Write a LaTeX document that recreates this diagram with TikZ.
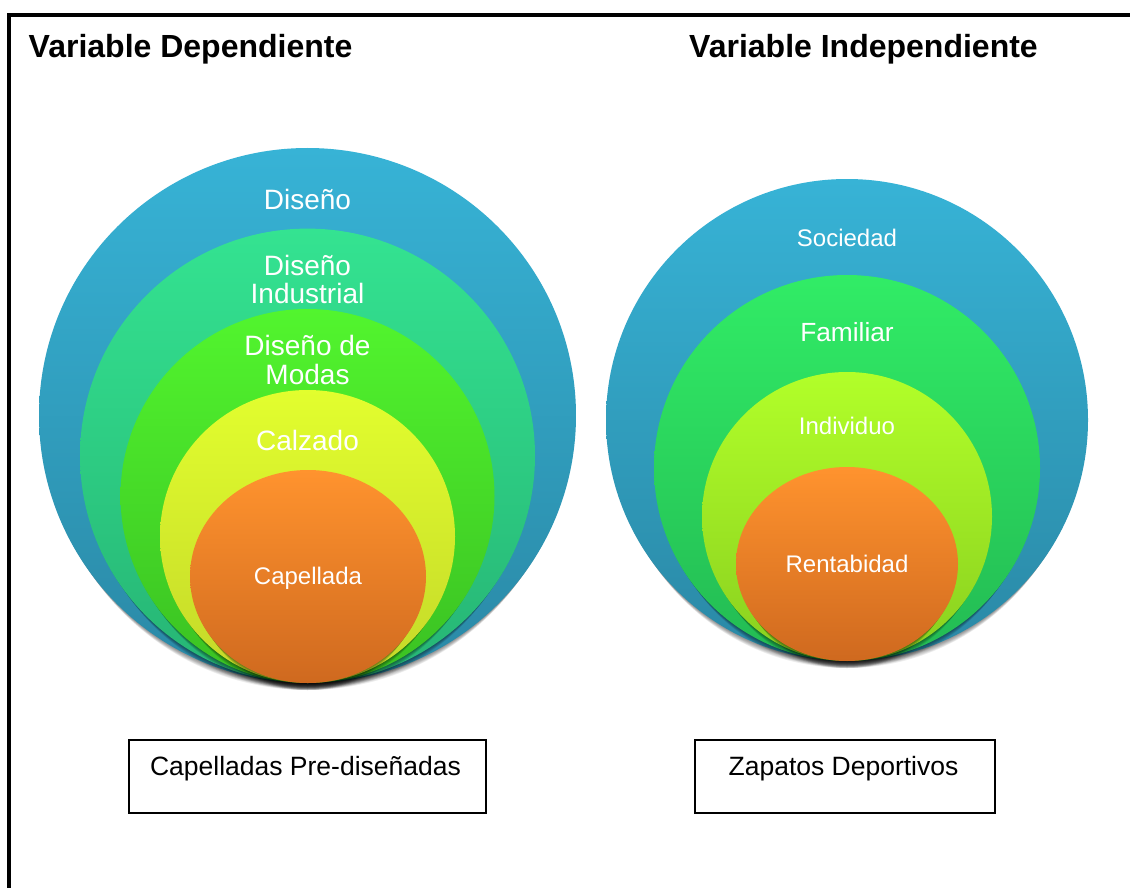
\documentclass[tikz,border=0pt]{standalone}
\usepackage{fontspec}
\setmainfont{Liberation Sans}
\definecolor{blueT}{HTML}{37B3D6}
\definecolor{blueB}{HTML}{2A88A5}
\definecolor{tealT}{HTML}{34E391}
\definecolor{tealB}{HTML}{26B474}
\definecolor{grnT}{HTML}{52F52E}
\definecolor{grnB}{HTML}{3AC022}
\definecolor{yelT}{HTML}{E2FE2E}
\definecolor{yelB}{HTML}{C4D829}
\definecolor{orgT}{HTML}{FF932E}
\definecolor{orgB}{HTML}{CF691F}
\definecolor{famT}{HTML}{31EC66}
\definecolor{famB}{HTML}{23BA53}
\definecolor{indT}{HTML}{B2FF29}
\definecolor{indB}{HTML}{89CF1F}
\newcommand\softdisc[6]{%
  \foreach \k in {1,...,7}{\fill[black,opacity=0.07] (#1,#2+\k*1.0) ellipse ({#3-0.9*\k} and {#4});}
  \shade[top color=#5,bottom color=#6] (#1,#2) ellipse ({#3} and {#4});
}
\tikzset{
  lbl/.style={text=white, anchor=base, inner sep=0pt, align=center},
  big/.style={font=\fontsize{28}{28.5}\selectfont},
  small/.style={font=\fontsize{24}{28}\selectfont},
  ttl/.style={font=\fontsize{32}{36}\selectfont\bfseries, anchor=base west, inner sep=0pt},
  framebox/.style={draw, line width=1.8pt, inner sep=0pt, anchor=north west},
  boxtext/.style={font=\fontsize{26.5}{30}\selectfont, anchor=base, inner sep=0pt}
}
\begin{document}
\begin{tikzpicture}[x=1pt,y=-1pt]
\useasboundingbox (0,0) rectangle (1130,888);
\fill[white] (0,0) rectangle (1130,888);
% outer frame
\draw[line width=4.6pt] (1140,15) -- (9,15) -- (9,900);
% titles
\node[ttl] (tdep) at (28.5,57.5) {Variable Dependiente};
\node[ttl] (tind) at (689,57.5) {Variable Independiente};
% left set of nested discs
\softdisc{307.5}{415.5}{268.5}{267.5}{blueT}{blueB}
\softdisc{307.5}{455.8}{227.5}{227.2}{tealT}{tealB}
\softdisc{307.5}{496}{187}{187}{grnT}{grnB}
\softdisc{307.5}{536.5}{147.5}{146.5}{yelT}{yelB}
\softdisc{308}{576.5}{118}{106.5}{orgT}{orgB}
\node[lbl,big] (l1) at (307.5,209.6) {Diseño};
\node[lbl,big] (l2) at (307.5,275) {Diseño};
\node[lbl,big] (l2b) at (307.5,303.6) {Industrial};
\node[lbl,big] (l3) at (307.5,355) {Diseño de};
\node[lbl,big] (l3b) at (307.5,384) {Modas};
\node[lbl,big] (l4) at (307.5,450.7) {Calzado};
\node[lbl,small] (l5) at (308,584.6) {Capellada};
% right set of nested discs
\softdisc{847}{420}{241}{241}{blueT}{blueB}
\softdisc{847}{468}{193}{193}{famT}{famB}
\softdisc{847}{516.5}{145}{144.5}{indT}{indB}
\softdisc{847}{564}{111}{97}{orgT}{orgB}
\node[lbl,small] (r1) at (847,246.7) {Sociedad};
\node[lbl,font=\fontsize{26.3}{30}\selectfont] (r2) at (847,341) {Familiar};
\node[lbl,small] (r3) at (847,434) {Individuo};
\node[lbl,small] (r4) at (847,572) {Rentabidad};
% boxes
\node[framebox, minimum width=357pt, minimum height=73pt] (b1) at (128.3,739.3) {};
\node[boxtext] (b1t) at (305.5,775) {Capelladas Pre-diseñadas};
\node[framebox, minimum width=300pt, minimum height=73pt] (b2) at (694.3,739.3) {};
\node[boxtext] (b2t) at (843.5,775) {Zapatos Deportivos};
\end{tikzpicture}
\end{document}
